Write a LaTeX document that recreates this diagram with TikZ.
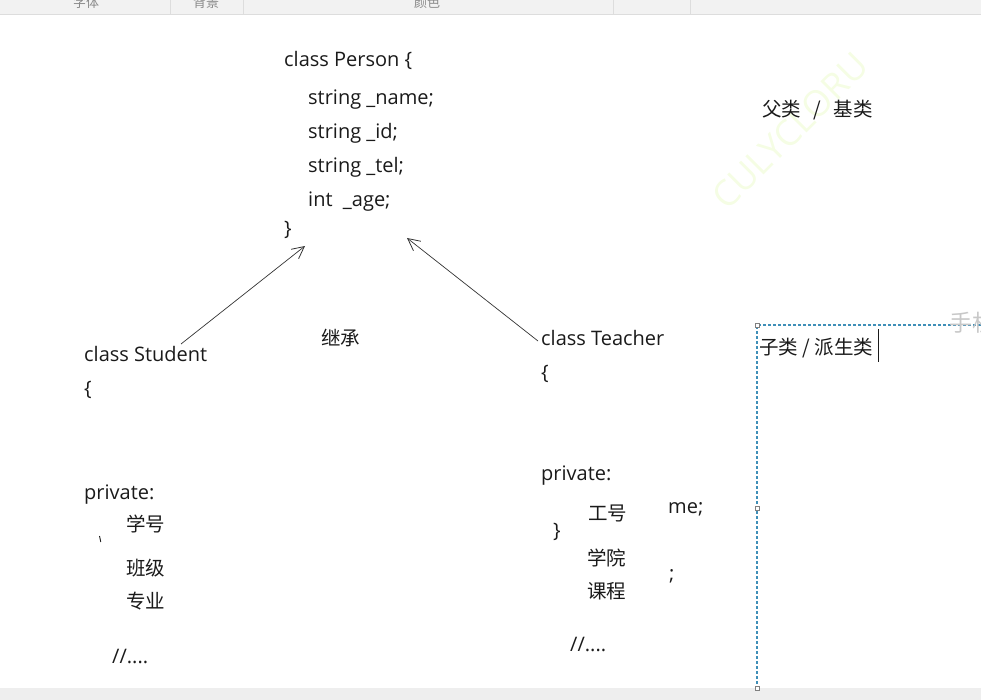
\documentclass[tikz,border=0pt]{standalone}
\usepackage{fontspec}
\setmainfont{Open Sans}
\newfontfamily\cjk{Noto Sans CJK SC}
\usetikzlibrary{arrows.meta}
\definecolor{barbg}{HTML}{F2F2F2}
\definecolor{barline}{HTML}{DDDDDD}
\definecolor{bartext}{HTML}{8A8A8A}
\definecolor{txt}{HTML}{1A1A1A}
\definecolor{linec}{HTML}{333333}
\definecolor{selc}{HTML}{3F8FB8}
\definecolor{wmc}{HTML}{F5FDE4}
\definecolor{ghost}{HTML}{C8C8C8}
\definecolor{botbg}{HTML}{EEEEEE}
\begin{document}
\begin{tikzpicture}[x=1pt,y=-1pt,
  code/.style={anchor=base west, inner sep=0pt, font=\fontsize{20}{22}\selectfont, text=txt},
  zh/.style={anchor=base west, inner sep=0pt, font=\cjk\fontsize{19.5}{22}\selectfont, text=txt},
  bartxt/.style={anchor=base, inner sep=0pt, font=\cjk\fontsize{13}{14}\selectfont, text=bartext},
  inh/.style={draw=linec, line width=0.7pt, -{Straight Barb[length=12pt,width=12pt,line width=0.8pt]}},
  handle/.style={draw=gray, fill=white, line width=0.5pt, minimum size=4pt, inner sep=0pt, rectangle}
]
\useasboundingbox (0,0) rectangle (981,700);
% toolbar
\fill[barbg] (0,0) rectangle (981,14);
\draw[barline] (0,14.5) -- (981,14.5);
\foreach \x in {170,243,613,690} \draw[barline] (\x,0) -- (\x,14);
\node[bartxt] (tb1) at (86,8) {字体};
\node[bartxt] (tb2) at (206,8) {背景};
\node[bartxt] (tb3) at (427,8) {颜色};
% bottom strip
\fill[botbg] (0,688) rectangle (981,700);
% watermark
\node[rotate=45, text=wmc, inner sep=0pt, font=\fontsize{36}{36}\selectfont] (wm) at (790,131) {CULYCLORU};
% Person
\node[code] (p0) at (284,67) {class Person \{};
\node[code] (p1) at (308,105) {string \_name;};
\node[code] (p2) at (308,139) {string \_id;};
\node[code] (p3) at (308,173) {string \_tel;};
\node[code] (p4) at (308,207) {int\ \ \_age;};
\node[code] (p5) at (284,236) {\}};
% base class label
\node[zh] (base) at (762,117) {父类\hspace{12pt}/\hspace{13pt}基类};
% Student
\node[code] (s0) at (84,361) {class Student};
\node[code] (s1) at (84,395) {\{};
\node[code] (s2) at (84,499) {private:};
\node[zh] (s3) at (126,531) {学号};
\node[zh] (s4) at (126,575) {班级};
\node[zh] (s5) at (126,608) {专业};
\node[code] (s6) at (112,663) {//....};
\draw[txt, line width=0.9pt] (99.5,536) -- (100.8,542);
% inherit label
\node[zh] (inhl) at (321,345) {继承};
% Teacher
\node[code] (t0) at (541,345) {class Teacher};
\node[code] (t1) at (541,379) {\{};
\node[code] (t2) at (541,480) {private:};
\node[zh] (t3) at (588,520) {工号};
\node[code] (t4) at (553,537) {\}};
\node[zh] (t5) at (587,565) {学院};
\node[zh] (t6) at (587,598) {课程};
\node[code] (t7) at (668,513) {me;};
\node[code] (t8) at (669,580) {;};
\node[code] (t9) at (570,651) {//....};
% arrows
\coordinate (sa) at (181,344);
\coordinate (sb) at (305,246);
\coordinate (ta) at (538,341);
\coordinate (tb) at (407,238);
\draw[inh] (sa) -- (sb);
\draw[inh] (ta) -- (tb);
% selection box
\draw[selc, line width=1.1pt, dash pattern=on 3pt off 2pt] (981,325) -- (757,325) -- (757,688);
\node[handle] (h1) at (757,325) {};
\node[handle] (h2) at (757,508) {};
\node[handle] (h3) at (757,688) {};
\node[zh] (derived) at (759,354) {子类 / 派生类};
\draw[txt, line width=0.8pt] (878,329) -- (878,362);
\node[anchor=base west, inner sep=0pt, text=ghost, font=\cjk\fontsize{23}{24}\selectfont] (ghostt) at (949,331) {手机};
\end{tikzpicture}
\end{document}
